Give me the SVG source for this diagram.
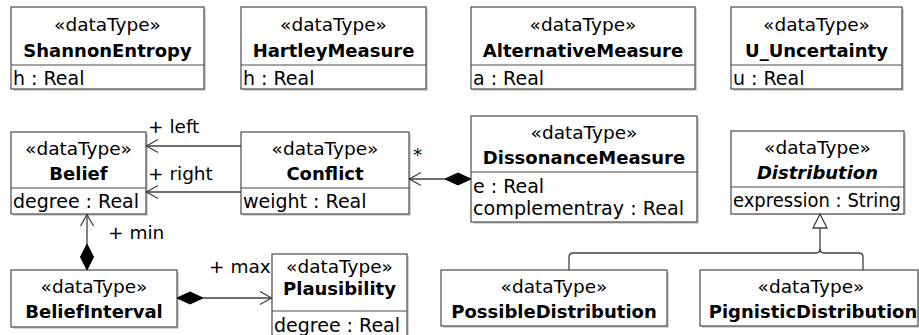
<svg xmlns="http://www.w3.org/2000/svg" width="919" height="335" viewBox="0 0 919 335">
<style>
  .box { fill: #ffffff; stroke: #4a4a4a; stroke-width: 1.2; }
  .shadow { fill: #d4d4d4; }
  .div { stroke: #4a4a4a; stroke-width: 1.2; }
  .st { font-family: "DejaVu Sans", Verdana, sans-serif; font-size: 18.5px; fill: #000; text-anchor: middle; }
  .nm { font-family: "DejaVu Sans", Verdana, sans-serif; font-size: 18px; font-weight: bold; fill: #000; text-anchor: middle; }
  .at { font-family: "DejaVu Sans", Verdana, sans-serif; font-size: 19px; fill: #000; }
  .lbl { font-family: "DejaVu Sans", Verdana, sans-serif; font-size: 18.5px; fill: #000; }
  .ln { fill: none; stroke: #404040; stroke-width: 1.3; }
  .dia { fill: #000; stroke: #000; stroke-width: 1; }
  .tri { fill: #fff; stroke: #404040; stroke-width: 1.3; }
</style>

<g id="ShannonEntropy">
  <rect class="shadow" x="13" y="9" width="193" height="82"/>
  <rect class="box" x="11" y="7" width="193" height="82"/>
  <line class="div" x1="11" y1="65" x2="204" y2="65"/>
  <text class="st" x="107.5" y="31">«dataType»</text>
  <text class="nm" x="107.5" y="57">ShannonEntropy</text>
  <text class="at" x="13" y="85">h : Real</text>
</g>

<g id="HartleyMeasure">
  <rect class="shadow" x="243" y="9" width="185" height="82"/>
  <rect class="box" x="241" y="7" width="185" height="82"/>
  <line class="div" x1="241" y1="65" x2="426" y2="65"/>
  <text class="st" x="333.5" y="31">«dataType»</text>
  <text class="nm" x="333.5" y="57">HartleyMeasure</text>
  <text class="at" x="243" y="85">h : Real</text>
</g>

<g id="AlternativeMeasure">
  <rect class="shadow" x="473" y="9" width="224" height="82"/>
  <rect class="box" x="471" y="7" width="224" height="82"/>
  <line class="div" x1="471" y1="65" x2="695" y2="65"/>
  <text class="st" x="583" y="31">«dataType»</text>
  <text class="nm" x="583" y="57">AlternativeMeasure</text>
  <text class="at" x="473" y="85">a : Real</text>
</g>

<g id="U_Uncertainty">
  <rect class="shadow" x="733" y="9" width="171" height="82"/>
  <rect class="box" x="731" y="7" width="171" height="82"/>
  <line class="div" x1="731" y1="65" x2="902" y2="65"/>
  <text class="st" x="816.5" y="31">«dataType»</text>
  <text class="nm" x="816.5" y="57">U_Uncertainty</text>
  <text class="at" x="733" y="85">u : Real</text>
</g>

<g id="Belief">
  <rect class="shadow" x="13" y="134" width="135" height="82"/>
  <rect class="box" x="11" y="132" width="135" height="82"/>
  <line class="div" x1="11" y1="188" x2="146" y2="188"/>
  <text class="st" x="78.5" y="155">«dataType»</text>
  <text class="nm" x="78.5" y="180">Belief</text>
  <text class="at" x="13" y="208">degree : Real</text>
</g>

<g id="Conflict">
  <rect class="shadow" x="243" y="134" width="168" height="82"/>
  <rect class="box" x="241" y="132" width="168" height="82"/>
  <line class="div" x1="241" y1="188" x2="409" y2="188"/>
  <text class="st" x="325" y="155">«dataType»</text>
  <text class="nm" x="325" y="180">Conflict</text>
  <text class="at" x="243" y="208">weight : Real</text>
</g>

<g id="DissonanceMeasure">
  <rect class="shadow" x="473" y="118" width="226" height="106"/>
  <rect class="box" x="471" y="116" width="226" height="106"/>
  <line class="div" x1="471" y1="172" x2="697" y2="172"/>
  <text class="st" x="584" y="139">«dataType»</text>
  <text class="nm" x="584" y="164">DissonanceMeasure</text>
  <text class="at" x="473" y="193">e : Real</text>
  <text class="at" x="473" y="215" textLength="211" lengthAdjust="spacingAndGlyphs">complementray : Real</text>
</g>

<g id="Distribution">
  <rect class="shadow" x="733" y="133" width="173" height="82"/>
  <rect class="box" x="731" y="131" width="173" height="83"/>
  <line class="div" x1="731" y1="187" x2="904" y2="187"/>
  <text class="st" x="817.5" y="154">«dataType»</text>
  <text class="nm" x="817.5" y="179" font-style="italic">Distribution</text>
  <text class="at" x="733" y="207" textLength="168" lengthAdjust="spacingAndGlyphs">expression : String</text>
</g>

<g id="BeliefInterval">
  <rect class="shadow" x="13" y="272" width="166" height="57"/>
  <rect class="box" x="11" y="270" width="166" height="57"/>
  <text class="st" x="94" y="293">«dataType»</text>
  <text class="nm" x="94" y="318">BeliefInterval</text>
</g>

<g id="Plausibility">
  <rect class="shadow" x="274" y="256" width="135" height="85"/>
  <rect class="box" x="272" y="254" width="135" height="85"/>
  <line class="div" x1="272" y1="311" x2="407" y2="311"/>
  <text class="st" x="339.5" y="273">«dataType»</text>
  <text class="nm" x="339.5" y="295">Plausibility</text>
  <text class="at" x="274" y="332">degree : Real</text>
</g>

<g id="PossibleDistribution">
  <rect class="shadow" x="443" y="272" width="226" height="56"/>
  <rect class="box" x="441" y="270" width="226" height="56"/>
  <text class="st" x="554" y="293">«dataType»</text>
  <text class="nm" x="554" y="318">PossibleDistribution</text>
</g>

<g id="PignisticDistribution">
  <rect class="shadow" x="702" y="272" width="218" height="56"/>
  <rect class="box" x="700" y="270" width="218" height="56"/>
  <text class="st" x="811" y="293">«dataType»</text>
  <text class="nm" x="813" y="318">PignisticDistribution</text>
</g>

<g id="connectors">
  <!-- Conflict -> Belief (left) -->
  <line class="ln" x1="241" y1="146" x2="146" y2="146"/>
  <path class="ln" d="M158,139.5 L146.5,146 L158,152.5"/>
  <text class="lbl" x="148" y="133">+ left</text>
  <!-- Conflict -> Belief (right) -->
  <line class="ln" x1="241" y1="192" x2="146" y2="192"/>
  <path class="ln" d="M158,185.5 L146.5,192 L158,198.5"/>
  <text class="lbl" x="148" y="180">+ right</text>
  <!-- DissonanceMeasure <>-> Conflict -->
  <line class="ln" x1="445" y1="179" x2="409" y2="179"/>
  <path class="ln" d="M421,172.5 L409.5,179 L421,185.5"/>
  <path class="dia" d="M471,179 L458,173 L445,179 L458,185 Z"/>
  <text class="lbl" x="413" y="161">*</text>
  <!-- BeliefInterval <>-> Belief (min) -->
  <line class="ln" x1="87" y1="244" x2="87" y2="214"/>
  <path class="ln" d="M80.5,226 L87,214.5 L93.5,226"/>
  <path class="dia" d="M87,270 L80.5,257 L87,244 L93.5,257 Z"/>
  <text class="lbl" x="108" y="239">+ min</text>
  <!-- BeliefInterval <>-> Plausibility (max) -->
  <line class="ln" x1="203" y1="298" x2="272" y2="298"/>
  <path class="ln" d="M260,291.5 L271.5,298 L260,304.5"/>
  <path class="dia" d="M177,298 L190,292 L203,298 L190,304 Z"/>
  <text class="lbl" x="209" y="273">+ max</text>
  <!-- Generalizations to Distribution -->
  <path class="ln" d="M569,270 V257 Q569,253 573,253 H816 Q820,253 820,249 V228"/>
  <path class="ln" d="M863,270 V257 Q863,253 859,253 H824 Q820,253 820,249"/>
  <path class="tri" d="M820,214 L813,228 L827,228 Z"/>
</g>
</svg>
